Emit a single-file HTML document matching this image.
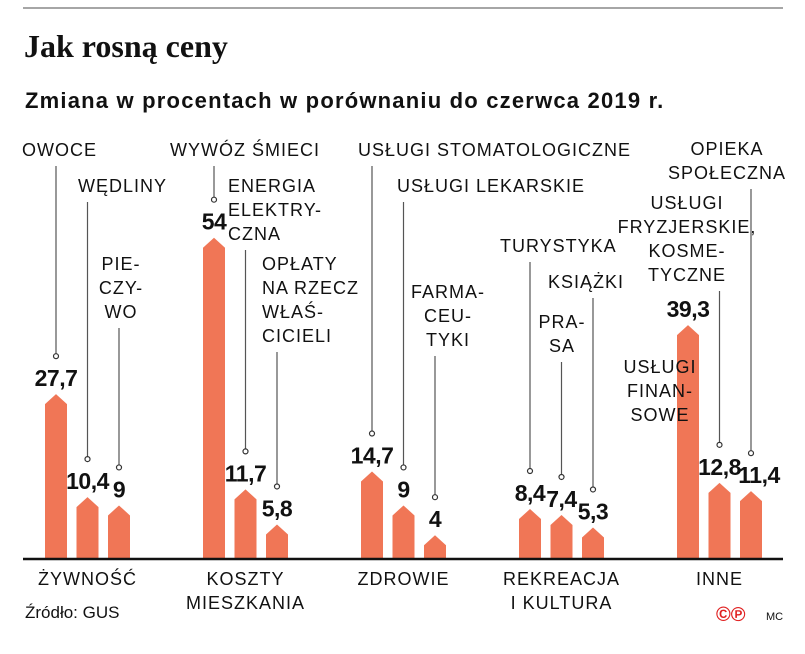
<!DOCTYPE html>
<html><head><meta charset="utf-8"><style>
body{margin:0;background:#fff}
svg text{font-family:"Liberation Sans","DejaVu Sans",sans-serif}
.lab{font-size:18px;fill:#111;font-weight:normal;letter-spacing:1px}
.val{font-size:23px;font-weight:bold;fill:#111;letter-spacing:-0.5px}
</style></head><body>
<svg id="chart" width="805" height="649" viewBox="0 0 805 649">
<line x1="23" y1="8" x2="783" y2="8" stroke="#888" stroke-width="1.5"/>
<text x="24" y="57" style="font-family:'Liberation Serif',serif;font-weight:bold;font-size:32px" fill="#111">Jak rosną ceny</text>
<text x="25" y="108" style="font-weight:bold;font-size:22px;letter-spacing:1.2px" fill="#111">Zmiana w procentach w porównaniu do czerwca 2019 r.</text>
<g id="bars"></g>
<line x1="23" y1="559" x2="783" y2="559" stroke="#111" stroke-width="2.5"/>
<g id="cats"></g>
<g id="labels" class="lab"></g>
<text x="25" y="618" font-size="17" fill="#111">Źródło: GUS</text>
<text x="716" y="621" font-size="20" fill="#e02020" font-weight="bold">©℗</text>
<text x="766" y="620" font-size="11" fill="#111">MC</text>
</svg>
<script>
const categories=["ŻYWNOŚĆ","KOSZTY|MIESZKANIA","ZDROWIE","REKREACJA|I KULTURA","INNE"];
const values=[27.7,10.4,9,54,11.7,5.8,14.7,9,4,8.4,7.4,5.3,39.3,12.8,11.4];
const valueLabels=["27,7","10,4","9","54","11,7","5,8","14,7","9","4","8,4","7,4","5,3","39,3","12,8","11,4"];
const itemNames=["OWOCE","WĘDLINY","PIE-|CZY-|WO","WYWÓZ ŚMIECI","ENERGIA|ELEKTRY-|CZNA","OPŁATY|NA RZECZ|WŁAŚ-|CICIELI","USŁUGI STOMATOLOGICZNE","USŁUGI LEKARSKIE","FARMA-|CEU-|TYKI","TURYSTYKA","PRA-|SA","KSIĄŻKI","USŁUGI|FINAN-|SOWE","USŁUGI|FRYZJERSKIE,|KOSME-|TYCZNE","OPIEKA|SPOŁECZNA"];
// layout (not data)
const labelTop=[156,192,270,156,192,270,156,192,298,252,328,288,373,209,155];
const labelAnchor=[["start",22],["start",78],["middle",121],["start",170],["start",228],["start",262],["start",358],["start",397],["middle",448],["start",500],["middle",562],["start",548],["middle",660],["middle",687],["middle",727]];
const valDx=[0,0,0,0,0,0,0,0,0,0,0,0,0,0,8];
const NS="http://www.w3.org/2000/svg";
const base=559, k=5.95, bw=22;
function xPos(i){const g=Math.floor(i/3),j=i%3;return 45+g*158+j*31.5;}
function yPos(v){return base-v*k;}
function mk(t,a,p){const e=document.createElementNS(NS,t);for(const q in a)e.setAttribute(q,a[q]);p.appendChild(e);return e;}
const bars=document.getElementById('bars'),labs=document.getElementById('labels'),cats=document.getElementById('cats');
values.forEach((v,i)=>{
  const x=xPos(i),top=yPos(v),c=x+bw/2;
  const p=mk('polygon',{points:`${x},${base} ${x},${top+10} ${c},${top} ${x+bw},${top+10} ${x+bw},${base}`,fill:'#f07656'},bars);
  
  
  const t=mk('text',{x:c+valDx[i],y:top-8,'text-anchor':'middle',class:'val'},labs);
  t.textContent=valueLabels[i];
  
  
  const lines=itemNames[i].split('|');
  const tt=mk('text',{'text-anchor':labelAnchor[i][0]},labs);
  
  
  lines.forEach((s,n)=>{const ts=mk('tspan',{x:labelAnchor[i][1],y:labelTop[i]+n*24},tt);ts.textContent=s;});
  if(i!==12){
    const ly1=labelTop[i]+(lines.length-1)*24+10, ly2=top-40;
    const ln=mk('line',{x1:c,y1:ly1,x2:c,y2:ly2,stroke:'#555','stroke-width':1.2},labs);
    
    
    const ci=mk('circle',{cx:c,cy:ly2+2,r:2.5,fill:'#fff',stroke:'#333','stroke-width':1.2},labs);
    
    
  }
});
categories.forEach((s,g)=>{
  const c=xPos(g*3+1)+bw/2;
  const t=mk('text',{'text-anchor':'middle',class:'lab'},cats);
  
  
  s.split('|').forEach((l,n)=>{const ts=mk('tspan',{x:c,y:585+n*24},t);ts.textContent=l;});
});
</script>
</body></html>
